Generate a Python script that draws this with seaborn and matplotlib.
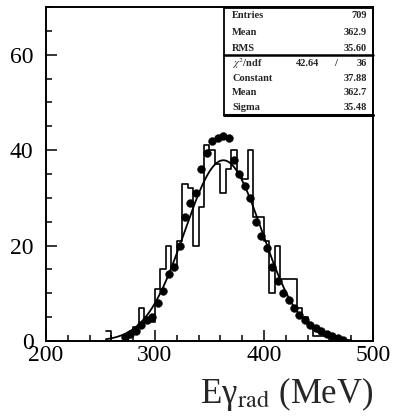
import numpy as np
import pandas as pd
import matplotlib
matplotlib.use("Agg")
import matplotlib.pyplot as plt
import seaborn as sns

# Step histogram: 5 MeV bins, lower edges and counts
hist_lo = [255, 260, 265, 270, 275, 280, 285, 290, 295, 300, 305, 310, 315, 320,
           325, 330, 335, 340, 345, 350, 355, 360, 365, 370, 375, 380, 385, 390,
           395, 400, 405, 410, 415, 420, 425, 430, 435, 440, 445, 450, 455, 460]
hist_n = [2, 0, 0, 0, 1, 3, 7, 4, 4, 11, 15, 20, 15, 21,
          33, 32, 20, 28, 41, 40, 37, 31, 36, 40, 35, 34, 40, 26,
          26, 21, 10, 20, 13, 13, 13, 7, 5, 3, 1, 1, 1, 1]
bin_width = 5

# Points (bin centres and contents)
pt_e = [272.5, 277.5, 282.5, 287.5, 292.5, 297.5, 302.5, 307.5, 312.5, 317.5,
        322.5, 327.5, 332.5, 337.5, 342.5, 347.5, 352.5, 357.5, 362.5, 367.5,
        372.5, 377.5, 382.5, 387.5, 392.5, 397.5, 402.5, 407.5, 412.5, 417.5,
        422.5, 427.5, 432.5, 437.5, 442.5, 447.5, 452.5, 457.5, 462.5, 467.5, 472.5]
pt_n = [0.8, 1.5, 2.2, 3.3, 4.3, 5.0, 8.0, 10.5, 14.0, 15.5,
        20.0, 26.0, 29.0, 31.0, 36.0, 39.5, 42.0, 42.5, 43.0, 42.5,
        38.0, 35.0, 32.5, 30.0, 25.0, 22.0, 19.5, 15.5, 12.5, 10.0,
        8.5, 7.0, 5.5, 4.5, 3.3, 2.7, 2.0, 1.5, 1.0, 0.6, 0.3]

# Gaussian fit parameters
fit_const, fit_mean, fit_sigma = 37.88, 362.7, 35.48

stats_top = [("Entries", "709"), ("Mean", "362.9"), ("RMS", "35.60")]
stats_fit = [("Constant", "37.88"), ("Mean", "362.7"), ("Sigma", "35.48")]
chi2, ndf = "42.64", "36"

sns.set_style("ticks")
plt.rcParams["font.family"] = ["Liberation Serif", "DejaVu Serif"]
plt.rcParams["mathtext.fontset"] = "stix"

fig = plt.figure(figsize=(3.95, 4.19), dpi=100)
ax = fig.add_axes([46 / 395, 1 - 341 / 419, 327 / 395, 334 / 419])

edges = list(hist_lo) + [hist_lo[-1] + bin_width]
centres = [e + bin_width / 2 for e in hist_lo]
hdf = pd.DataFrame({"E": centres, "n": hist_n})
sns.histplot(data=hdf, x="E", weights="n", bins=edges, element="step",
             fill=False, color="black", linewidth=1.2, ax=ax)

xf = np.linspace(255, 480, 400)
fdf = pd.DataFrame({"E": xf,
                    "f": fit_const * np.exp(-0.5 * ((xf - fit_mean) / fit_sigma) ** 2)})
sns.lineplot(data=fdf, x="E", y="f", color="black", linewidth=1.3, ax=ax)

pdf = pd.DataFrame({"E": pt_e, "n": pt_n})
sns.scatterplot(data=pdf, x="E", y="n", color="black", s=32, edgecolor="black",
                linewidth=0.3, zorder=5, ax=ax)

ax.set_xlim(200, 500)
ax.set_ylim(0, 70)
ax.set_xticks([200, 300, 400, 500])
ax.set_xticks(np.arange(200, 501, 20), minor=True)
ax.set_yticks([0, 20, 40, 60])
ax.set_yticks(np.arange(0, 71, 5), minor=True)
ax.tick_params(which="both", direction="in", width=1.1, colors="black",
               labelsize=17, top=False, right=False)
ax.tick_params(which="major", length=8)
ax.tick_params(which="minor", length=4.5)
ax.tick_params(axis="y", pad=9)
ax.tick_params(axis="x", pad=3)
for s in ax.spines.values():
    s.set_linewidth(1.4)
    s.set_color("black")

ax.set_ylabel("")
ax.set_xlabel("E\u03b3$_{\\rm rad}$ (MeV)", fontsize=25, loc="right", labelpad=6)

# Statistics box
bx0, bx1 = 0.544, 1.0
ytop, ysep, ybot = 0.997, 0.856, 0.677
kw = dict(transform=ax.transAxes, fontsize=7.5, fontweight="bold", va="center")
ax.plot([bx0, bx1, bx1, bx0, bx0], [ybot, ybot, ytop, ytop, ybot], color="black",
        lw=1.3, transform=ax.transAxes, clip_on=False, zorder=6)
ax.plot([bx0, bx1], [ysep, ysep], color="black", lw=1.8, transform=ax.transAxes,
        clip_on=False, zorder=6)
ax.plot([bx0, bx1], [ybot, ybot], color="black", lw=2.2, transform=ax.transAxes,
        clip_on=False, zorder=6)
xl, xr = 0.569, 0.982
for (lab, val), yy in zip(stats_top, [0.976, 0.925, 0.877]):
    ax.text(xl, yy, lab, ha="left", **kw)
    ax.text(xr, yy, val, ha="right", **kw)
ax.text(xl, 0.832, r"$\chi^2$/ndf", ha="left", **kw)
ax.text(0.835, 0.832, chi2, ha="right", **kw)
ax.text(0.885, 0.832, "/", ha="center", **kw)
ax.text(xr, 0.832, ndf, ha="right", **kw)
for (lab, val), yy in zip(stats_fit, [0.787, 0.743, 0.698]):
    ax.text(xl, yy, lab, ha="left", **kw)
    ax.text(xr, yy, val, ha="right", **kw)

fig.savefig("out.png", dpi=100)
